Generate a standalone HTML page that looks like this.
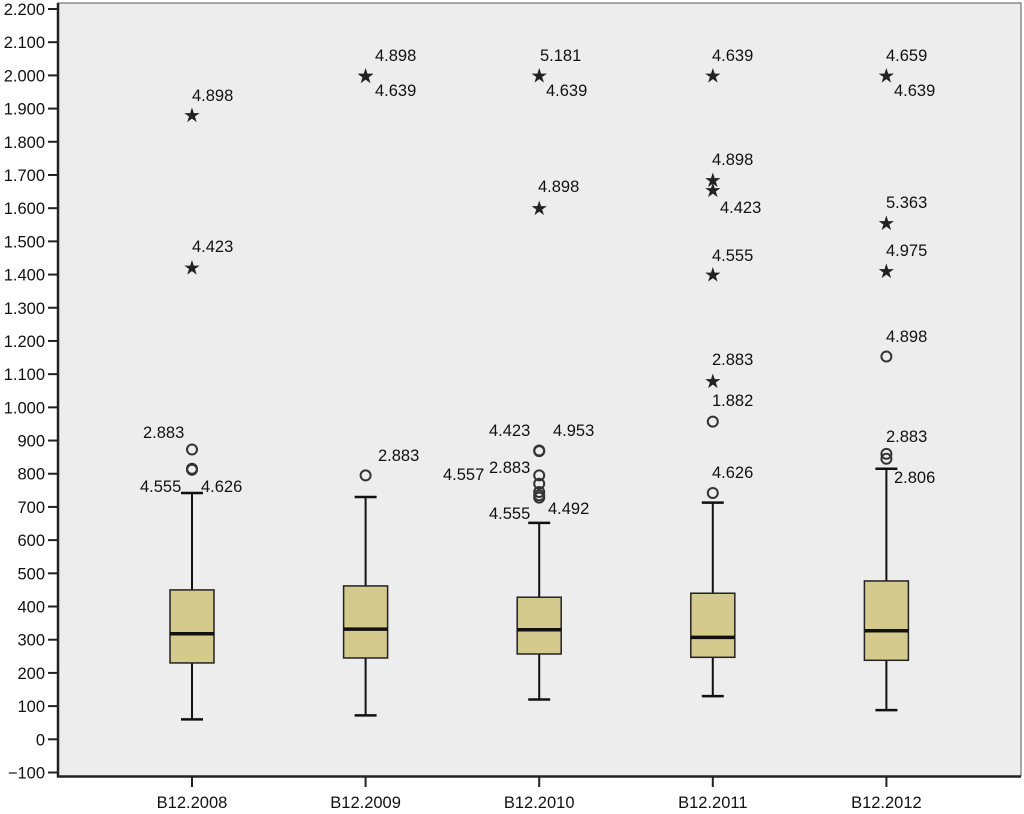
<!DOCTYPE html>
<html><head><meta charset="utf-8"><style>
body{margin:0;background:#fff;}
svg{display:block;font-family:"Liberation Sans",Arial,sans-serif;}
</style></head><body>
<svg id="chart" width="1024" height="814" viewBox="0 0 1024 814" xmlns="http://www.w3.org/2000/svg">
<rect x="58" y="3" width="963" height="773" fill="#ededed" stroke="#555" stroke-width="1"/>
<g id="axes"></g>
<g id="marks"></g>
</svg>
<script>
const categories = ["B12.2008","B12.2009","B12.2010","B12.2011","B12.2012"];
const whiskerLow = [60,72,120,130,88];
const q1 = [230,245,257,247,238];
const median = [318,332,330,307,327];
const q3 = [450,462,428,440,477];
const whiskerHigh = [742,730,652,713,815];
const circleOutliers = [[873,815,812],[795],[870,868,795,770,745,735,728],[742,957],[860,845,1153]];
const starOutliers = [[1880,1422],[2000,1998],[2000,1600],[2000,1685,1655,1400,1080],[2000,1555,1410]];
const yTicks = [-100,0,100,200,300,400,500,600,700,800,900,1000,1100,1200,1300,1400,1500,1600,1700,1800,1900,2000,2100,2200];
const yTickLabels = ["−100","0","100","200","300","400","500","600","700","800","900","1.000","1.100","1.200","1.300","1.400","1.500","1.600","1.700","1.800","1.900","2.000","2.100","2.200"];
const caseLabels = [
 [[192,101,"4.898"],[192,252,"4.423"],[143,438,"2.883"],[140,492,"4.555"],[201,492,"4.626"]],
 [[375,61,"4.898"],[375,96,"4.639"],[378,461,"2.883"]],
 [[540,61,"5.181"],[546,96,"4.639"],[538,192,"4.898"],[489,436,"4.423"],[553,436,"4.953"],[443,480,"4.557"],[489,473,"2.883"],[489,519,"4.555"],[548,514,"4.492"]],
 [[712,61,"4.639"],[712,165,"4.898"],[720,213,"4.423"],[712,261,"4.555"],[712,365,"2.883"],[712,406,"1.882"],[712,478,"4.626"]],
 [[886,61,"4.659"],[894,96,"4.639"],[886,208,"5.363"],[886,256,"4.975"],[886,342,"4.898"],[886,442,"2.883"],[894,483,"2.806"]]
];
const NS="http://www.w3.org/2000/svg";
const y0=739.3, k=730.3/2200;
function ys(v){return y0 - v*k;}
function xs(i){return 192 + i*173.6;}
function mk(tag,attrs,parent){const e=document.createElementNS(NS,tag);for(const a in attrs)e.setAttribute(a,attrs[a]);parent.appendChild(e);return e;}
const axes=document.getElementById('axes'), marks=document.getElementById('marks');
const ya=mk('line',{x1:58,y1:3,x2:58,y2:777,stroke:'#222','stroke-width':2.5},axes);


const xa=mk('line',{x1:57,y1:776.5,x2:1021,y2:776.5,stroke:'#222','stroke-width':2.5},axes);


yTicks.forEach((v,i)=>{
 const t=mk('line',{x1:48,y1:ys(v),x2:58,y2:ys(v),stroke:'#222','stroke-width':2},axes);
 
 
 const l=mk('text',{x:45,y:ys(v)+6,'text-anchor':'end','font-size':16.5,fill:'#111'},axes);
 l.textContent=yTickLabels[i];
 
 
});
categories.forEach((c,i)=>{
 const x=xs(i);
 const t=mk('line',{x1:x,y1:777,x2:x,y2:787,stroke:'#222','stroke-width':2},axes);
 
 
 const l=mk('text',{x:x,y:808,'text-anchor':'middle','font-size':16.5,fill:'#111'},axes);
 l.textContent=c;
 
 
 const g=mk('g',{},marks);
 
 
 mk('line',{x1:x,y1:ys(whiskerLow[i]),x2:x,y2:ys(whiskerHigh[i]),stroke:'#111','stroke-width':2},g);
 mk('line',{x1:x-11,y1:ys(whiskerLow[i]),x2:x+11,y2:ys(whiskerLow[i]),stroke:'#111','stroke-width':2.5},g);
 mk('line',{x1:x-11,y1:ys(whiskerHigh[i]),x2:x+11,y2:ys(whiskerHigh[i]),stroke:'#111','stroke-width':2.5},g);
 mk('rect',{x:x-22,y:ys(q3[i]),width:44,height:ys(q1[i])-ys(q3[i]),fill:'#d5ca8e',stroke:'#222','stroke-width':1.5},g);
 mk('line',{x1:x-22,y1:ys(median[i]),x2:x+22,y2:ys(median[i]),stroke:'#111','stroke-width':3.5},g);
 circleOutliers[i].forEach(v=>{
  const o=mk('circle',{cx:x,cy:ys(v),r:5,fill:'none',stroke:'#333','stroke-width':2},marks);
  
  
 });
 starOutliers[i].forEach(v=>{
  const s=mk('text',{x:x,y:ys(v)+7,'text-anchor':'middle','font-size':20,fill:'#222'},marks);
  s.textContent='★';
  
  
 });
 caseLabels[i].forEach(([lx,ly,txt])=>{
  const l=mk('text',{x:lx,y:ly,'font-size':16.5,fill:'#111'},marks);
  l.textContent=txt;
  
  
 });
});
</script>
</body></html>
